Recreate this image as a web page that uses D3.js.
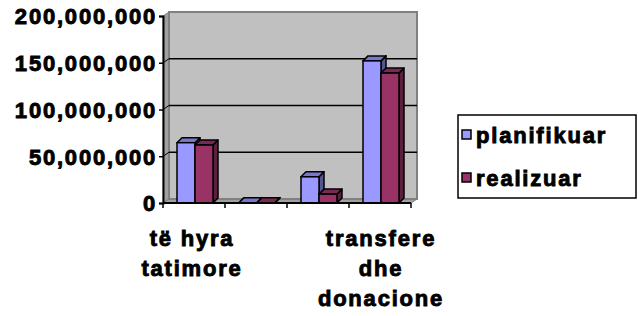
<!DOCTYPE html>
<html>
<head>
<meta charset="utf-8">
<script src="https://cdn.jsdelivr.net/npm/d3@7"></script>
<style>
  body { margin: 0; background: #fff; }
  svg text { font-family: Arial, "Liberation Sans", sans-serif !important; font-weight: bold !important; font-size: 22px !important; letter-spacing: 1.8px; fill: #000; stroke: #000; stroke-width: 0.9px; }
</style>
</head>
<body>
<svg id="chart" width="638" height="316"></svg>
<script>
// data
var categories = ["të hyra tatimore", "", "", "transfere dhe donacione"];
var catLabels = [["të hyra", "tatimore"], [], [], ["transfere", "dhe", "donacione"]];
var series = ["planifikuar", "realizuar"];
var planifikuar = [64500000, 400000, 28000000, 152000000];
var realizuar = [62000000, 400000, 9500000, 139000000];
var yTicks = [0, 50000000, 100000000, 150000000, 200000000];

var colors = {
  planifikuar: { front: "#9999FF", top: "#7777CC", side: "#55558F" },
  realizuar: { front: "#993366", top: "#7A2952", side: "#5C1F3D" }
};

var svg = d3.select("#chart");

var left = 163, right = 411, dx = 6, dy = -4;
var bx = 5, by = -5; // bar depth

var x0 = d3.scaleBand().domain(d3.range(categories.length)).range([left, right]);
var x1 = d3.scaleBand().domain(series).range([14, 50]);
var y = d3.scaleLinear().domain([0, 200000000]).range([203, 16]);

var y0 = y(0), yTop = y(200000000);

// side wall
svg.append("polygon")
  .attr("points", [[left, y0], [left, yTop], [left + dx, yTop + dy], [left + dx, y0 + dy]].join(" "))
  .attr("fill", "#a0a0a0").attr("stroke", "#808080").attr("stroke-width", 1);
// floor
svg.append("polygon")
  .attr("points", [[left, y0], [right, y0], [right + dx, y0 + dy], [left + dx, y0 + dy]].join(" "))
  .attr("fill", "#a0a0a0").attr("stroke", "#808080").attr("stroke-width", 1);
// back wall
svg.append("rect")
  .attr("x", left + dx).attr("y", yTop + dy)
  .attr("width", right - left).attr("height", y0 - yTop)
  .attr("fill", "#C0C0C0").attr("stroke", "#808080").attr("stroke-width", 2);

// gridlines on back wall
svg.selectAll(".grid").data(yTicks.slice(1, -1)).enter().append("line")
  .attr("x1", left + dx).attr("x2", right + dx)
  .attr("y1", function(d) { return y(d) + dy; })
  .attr("y2", function(d) { return y(d) + dy; })
  .attr("stroke", "#000").attr("stroke-width", 1.5);
// gridline stubs on side wall
svg.selectAll(".gs").data(yTicks.slice(1, -1)).enter().append("line")
  .attr("x1", left).attr("x2", left + dx)
  .attr("y1", function(d) { return y(d); })
  .attr("y2", function(d) { return y(d) + dy; })
  .attr("stroke", "#000").attr("stroke-width", 1);

// bars
var rows = [];
categories.forEach(function(c, i) {
  rows.push({ i: i, s: "planifikuar", v: planifikuar[i] });
  rows.push({ i: i, s: "realizuar", v: realizuar[i] });
});

var bar = svg.selectAll(".bar").data(rows).enter().append("g").attr("class", "bar");
bar.each(function(d) {
  var g = d3.select(this);
  var xa = x0(d.i) + x1(d.s), xb = xa + x1.bandwidth();
  var yt = y(d.v), yb = y(0);
  var col = colors[d.s];
  g.append("polygon")
    .attr("points", [[xb, yb], [xb, yt], [xb + bx, yt + by], [xb + bx, yb + by]].join(" "))
    .attr("fill", col.side).attr("stroke", "#000").attr("stroke-width", 1.5).attr("stroke-linejoin", "round");
  g.append("polygon")
    .attr("points", [[xa, yt], [xb, yt], [xb + bx, yt + by], [xa + bx, yt + by]].join(" "))
    .attr("fill", col.top).attr("stroke", "#000").attr("stroke-width", 1.5).attr("stroke-linejoin", "round");
  if (yb - yt > 1) {
    g.append("rect")
      .attr("x", xa).attr("y", yt).attr("width", xb - xa).attr("height", yb - yt)
      .attr("fill", col.front).attr("stroke", "#000").attr("stroke-width", 1.5);
  }
});

// y axis
var yAxis = d3.axisLeft(y).tickValues(yTicks).tickSize(4).tickFormat(d3.format(","));
var ya = svg.append("g").attr("transform", "translate(" + left + ",0)").call(yAxis);
ya.attr("font-family", null).attr("font-size", null);
ya.select(".domain").attr("stroke", "#000").attr("stroke-width", 2);
ya.selectAll(".tick line").attr("stroke", "#000").attr("stroke-width", 1.5);
ya.selectAll(".tick text").attr("x", -6).attr("dy", "0.36em");

// x axis baseline
svg.append("line").attr("x1", left).attr("x2", right).attr("y1", y0).attr("y2", y0)
  .attr("stroke", "#000").attr("stroke-width", 2);
svg.selectAll(".xt").data(d3.range(categories.length + 1)).enter().append("line")
  .attr("x1", function(d) { return left + d * x0.bandwidth(); })
  .attr("x2", function(d) { return left + d * x0.bandwidth(); })
  .attr("y1", y0).attr("y2", y0 + 5)
  .attr("stroke", "#000").attr("stroke-width", 1.5);

// category labels
catLabels.forEach(function(lines, i) {
  var cx = x0(i) + x0.bandwidth() / 2 + (i === 3 ? 1 : -2);
  var t = svg.append("text").attr("text-anchor", "middle").attr("x", cx).attr("y", 246);
  lines.forEach(function(l, k) {
    t.append("tspan").attr("x", cx).attr("dy", k === 0 ? 0 : 30).text(l);
  });
});

// legend
var lg = svg.append("g").attr("transform", "translate(458,115)");
lg.append("rect").attr("width", 178).attr("height", 83)
  .attr("fill", "#fff").attr("stroke", "#000").attr("stroke-width", 1.5);
series.forEach(function(s, k) {
  var row = lg.append("g").attr("transform", "translate(0," + (20 + k * 43) + ")");
  row.append("rect").attr("x", 4).attr("y", -5).attr("width", 9).attr("height", 9)
    .attr("fill", colors[s].front).attr("stroke", "#000").attr("stroke-width", 1.5);
  row.append("text").attr("x", 18).attr("dy", "0.36em").text(s);
});
</script>
</body>
</html>
